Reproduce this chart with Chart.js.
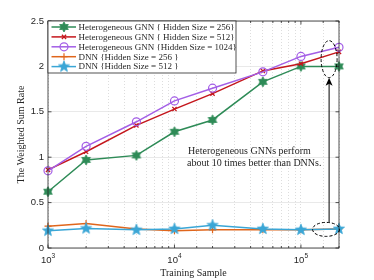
<!DOCTYPE html>
<html>
<head>
<meta charset="utf-8">
<script src="https://cdn.jsdelivr.net/npm/chart.js@4.4.0/dist/chart.umd.min.js"></script>
<style>
  html, body { margin: 0; padding: 0; background: #fff; }
  canvas { display: block; }
</style>
</head>
<body>
<canvas id="myChart" width="374" height="280"></canvas>
<script>
// valeurs
const samples = [1000, 2000, 5000, 10000, 20000, 50000, 100000, 200000];
const gnn256  = [0.62, 0.97, 1.02, 1.28, 1.41, 1.83, 2.00, 2.00];
const gnn512  = [0.86, 1.06, 1.35, 1.53, 1.70, 1.95, 2.03, 2.16];
const gnn1024 = [0.85, 1.12, 1.39, 1.62, 1.76, 1.94, 2.11, 2.21];
const dnn256  = [0.24, 0.27, 0.21, 0.19, 0.20, 0.20, 0.20, 0.21];
const dnn512  = [0.19, 0.215, 0.20, 0.21, 0.25, 0.21, 0.20, 0.21];

const seriesNames = [
  'Heterogeneous GNN { Hidden Size = 256}',
  'Heterogeneous GNN { Hidden Size = 512}',
  'Heterogeneous GNN {Hidden Size = 1024}',
  'DNN {Hidden Size = 256 }',
  'DNN {Hidden Size = 512 }'
];
const yTicks = [0, 0.5, 1, 1.5, 2, 2.5];
const xTickExps = [3, 4, 5];
const xTitle = 'Training Sample';
const yTitle = 'The Weighted Sum Rate';
const noteLines = ['Heterogeneous GNNs perform', 'about 10 times better than DNNs.'];

const colors = ['#2e8b57', '#c4161c', '#a35ee6', '#e0661c', '#3aa6d6'];
const axisColor = '#262626';

// marqueurs étoile (hexagramme / pentagramme)
function makeStar(points, outer, innerRatio, color) {
  const size = Math.ceil(outer * 2 + 2);
  const c = document.createElement('canvas');
  c.width = size; c.height = size;
  const g = c.getContext('2d');
  const cx = size / 2, cy = size / 2;
  g.beginPath();
  for (let i = 0; i < points * 2; i++) {
    const r = i % 2 === 0 ? outer : outer * innerRatio;
    const a = -Math.PI / 2 + i * Math.PI / points;
    const x = cx + r * Math.cos(a), y = cy + r * Math.sin(a);
    if (i === 0) g.moveTo(x, y); else g.lineTo(x, y);
  }
  g.closePath();
  g.fillStyle = color;
  g.fill();
  g.strokeStyle = color;
  g.lineWidth = 0.8;
  g.stroke();
  return c;
}
const hexagram = makeStar(6, 5, 0.577, colors[0]);
const pentagram = makeStar(5, 5.8, 0.42, colors[4]);

const styles = [
  { pointStyle: hexagram, radius: 5 },
  { pointStyle: 'crossRot', radius: 3 },
  { pointStyle: 'circle', radius: 4 },
  { pointStyle: 'cross', radius: 3.5 },
  { pointStyle: pentagram, radius: 5 }
];
const allSeries = [gnn256, gnn512, gnn1024, dnn256, dnn512];

const datasets = allSeries.map((vals, i) => ({
  label: seriesNames[i],
  data: samples.map((x, j) => ({ x: x, y: vals[j] })),
  borderColor: colors[i],
  backgroundColor: colors[i],
  borderWidth: 1.5,
  pointStyle: styles[i].pointStyle,
  pointRadius: styles[i].radius,
  pointBorderColor: colors[i],
  pointBackgroundColor: i === 2 ? 'rgba(0,0,0,0)' : colors[i],
  pointBorderWidth: 1.2,
  tension: 0,
  clip: false,
  order: 4 - i
}));

// cadre, graduations, titres, légende et annotation
const decorPlugin = {
  id: 'decor',
  afterDraw(chart) {
    const ctx = chart.ctx;
    const a = chart.chartArea;
    const xs = chart.scales.x, ys = chart.scales.y;
    ctx.save();

    // cadre
    ctx.strokeStyle = axisColor;
    ctx.lineWidth = 0.8;
    ctx.strokeRect(a.left, a.top, a.right - a.left, a.bottom - a.top);

    // graduations vers l'intérieur
    ctx.beginPath();
    xs.ticks.forEach(t => {
      const px = xs.getPixelForValue(t.value);
      const major = xTickExps.some(e => Math.abs(t.value - Math.pow(10, e)) < 1e-6);
      const len = major ? 3.5 : 2;
      ctx.moveTo(px, a.bottom); ctx.lineTo(px, a.bottom - len);
      ctx.moveTo(px, a.top); ctx.lineTo(px, a.top + len);
    });
    yTicks.forEach(v => {
      const py = ys.getPixelForValue(v);
      ctx.moveTo(a.left, py); ctx.lineTo(a.left + 3.5, py);
      ctx.moveTo(a.right, py); ctx.lineTo(a.right - 3.5, py);
    });
    ctx.stroke();

    // étiquettes x avec exposant
    ctx.fillStyle = axisColor;
    ctx.textBaseline = 'alphabetic';
    xTickExps.forEach(e => {
      const px = xs.getPixelForValue(Math.pow(10, e));
      ctx.font = '9.5px "Liberation Sans"';
      const w1 = ctx.measureText('10').width;
      ctx.font = '6.5px "Liberation Sans"';
      const w2 = ctx.measureText(String(e)).width;
      const x0 = px - (w1 + w2) / 2;
      ctx.font = '9.5px "Liberation Sans"';
      ctx.textAlign = 'left';
      ctx.fillText('10', x0, a.bottom + 15);
      ctx.font = '6.5px "Liberation Sans"';
      ctx.fillText(String(e), x0 + w1, a.bottom + 10);
    });

    // titres des axes
    ctx.font = '10px "Liberation Serif"';
    ctx.textAlign = 'center';
    ctx.textBaseline = 'middle';
    ctx.fillText(xTitle, (a.left + a.right) / 2, a.bottom + 25);
    ctx.save();
    ctx.translate(21, (a.top + a.bottom) / 2);
    ctx.rotate(-Math.PI / 2);
    ctx.fillText(yTitle, 0, 0);
    ctx.restore();

    // légende
    const lx = a.left, ly = a.top, lw = 188, lh = 52;
    ctx.fillStyle = '#fff';
    ctx.fillRect(lx, ly, lw, lh);
    ctx.strokeStyle = axisColor;
    ctx.lineWidth = 0.8;
    ctx.strokeRect(lx, ly, lw, lh);
    ctx.font = '9px "Liberation Serif"';
    ctx.textAlign = 'left';
    ctx.textBaseline = 'middle';
    chart.data.datasets.forEach((ds, i) => {
      const y = ly + 6 + i * 9.9;
      ctx.strokeStyle = ds.borderColor;
      ctx.lineWidth = 1.5;
      ctx.beginPath();
      ctx.moveTo(lx + 3.5, y); ctx.lineTo(lx + 28, y);
      ctx.stroke();
      ctx.fillStyle = ds.pointBackgroundColor;
      ctx.strokeStyle = ds.pointBorderColor;
      ctx.lineWidth = 1.2;
      Chart.helpers.drawPoint(ctx, {
        pointStyle: ds.pointStyle, radius: ds.pointRadius, rotation: 0, borderWidth: 1.2
      }, lx + 16, y);
      ctx.fillStyle = axisColor;
      ctx.fillText(ds.label, lx + 30.5, y + 0.5);
    });

    // annotation : ellipses, flèche, texte
    ctx.strokeStyle = '#000';
    ctx.lineWidth = 1;
    ctx.setLineDash([3, 2]);
    const ex = xs.getPixelForValue(1.67e5);
    ctx.beginPath();
    ctx.ellipse(ex, ys.getPixelForValue(2.08), 8, 18.5, 0, 0, Math.PI * 2);
    ctx.stroke();
    ctx.beginPath();
    ctx.ellipse(xs.getPixelForValue(1.58e5), ys.getPixelForValue(0.205), 13.5, 7, 0, 0, Math.PI * 2);
    ctx.stroke();
    ctx.setLineDash([]);
    const yTop = ys.getPixelForValue(2.08) + 18.5;
    const yBot = ys.getPixelForValue(0.205) - 7;
    ctx.beginPath();
    ctx.moveTo(ex, yBot); ctx.lineTo(ex, yTop + 6);
    ctx.stroke();
    ctx.fillStyle = '#000';
    ctx.beginPath();
    ctx.moveTo(ex, yTop);
    ctx.lineTo(ex - 3.5, yTop + 8);
    ctx.lineTo(ex, yTop + 6);
    ctx.lineTo(ex + 3.5, yTop + 8);
    ctx.closePath();
    ctx.fill();

    ctx.fillStyle = axisColor;
    ctx.font = '10px "Liberation Serif"';
    ctx.textAlign = 'left';
    ctx.textBaseline = 'middle';
    const tx = xs.getPixelForValue(1.28e4);
    ctx.fillText(noteLines[0], tx, ys.getPixelForValue(1.06));
    ctx.fillText(noteLines[1], tx - 1, ys.getPixelForValue(0.93));

    ctx.restore();
  }
};

const myChart = new Chart(document.getElementById('myChart'), {
  type: 'line',
  data: { datasets: datasets },
  options: {
    responsive: false,
    animation: false,
    events: [],
    layout: { padding: { left: 0, right: 35, top: 21, bottom: 0 } },
    plugins: {
      legend: { display: false },
      title: { display: false },
      tooltip: { enabled: false }
    },
    scales: {
      x: {
        type: 'logarithmic',
        min: samples[0],
        max: samples[samples.length - 1],
        ticks: { display: false, autoSkip: false },
        grid: { color: '#d4d4d4', lineWidth: 0.8, drawTicks: false },
        border: { display: false, dash: [1, 2] },
        afterFit(s) { s.height = 32; }
      },
      y: {
        min: 0,
        max: 2.5,
        ticks: {
          stepSize: 0.5,
          padding: 4,
          color: axisColor,
          font: { family: 'Liberation Sans', size: 9.5 },
          callback: v => String(v)
        },
        afterBuildTicks(s) { s.ticks = yTicks.map(v => ({ value: v })); },
        grid: { color: '#e3e3e3', lineWidth: 0.8, drawTicks: false },
        border: { display: false },
        afterFit(s) { s.width = 48; }
      }
    }
  },
  plugins: [decorPlugin]
});
</script>
</body>
</html>
